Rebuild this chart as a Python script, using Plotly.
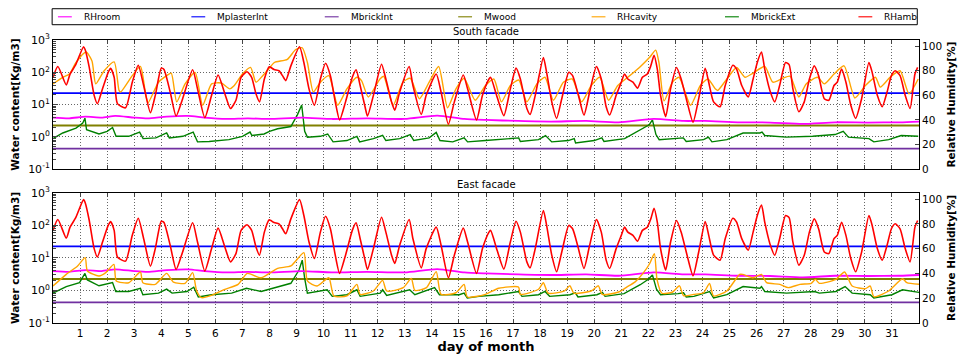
import plotly.graph_objects as go

# ---------------- data (day of month, value) ----------------
# Ambient relative humidity [%] (same in both facades)
rhamb_day = [0.0, 0.18, 0.49, 0.63, 0.83, 1.13, 1.19, 1.34, 1.52, 1.64, 1.83, 2.04, 2.13, 2.26, 2.38, 2.68,
             2.93, 3.15, 3.35, 3.6, 3.78, 4.0, 4.1, 4.33, 4.55, 4.79, 5.16, 5.34, 5.61, 5.86, 6.1, 6.35,
             6.56, 6.76, 6.95, 7.17, 7.34, 7.5, 7.63, 7.81, 7.99, 8.05, 8.17, 8.35, 8.48, 8.6, 8.79, 9.11,
             9.27, 9.46, 9.66, 9.88, 10.07, 10.25, 10.43, 10.59, 10.81, 11.06, 11.2, 11.35, 11.53, 11.62,
             11.84, 12.14, 12.3, 12.51, 12.63, 12.81, 13.16, 13.3, 13.61, 13.79, 14.16, 14.34, 14.61, 14.83,
             15.16, 15.32, 15.65, 15.87, 16.11, 16.17, 16.41, 16.66, 16.9, 17.11, 17.27, 17.51, 17.63, 17.82,
             18.12, 18.24, 18.43, 18.61, 18.8, 19.06, 19.2, 19.4, 19.62, 19.83, 20.08, 20.26, 20.44, 20.57,
             20.81, 21.0, 21.12, 21.24, 21.43, 21.6, 21.78, 21.96, 22.09, 22.21, 22.33, 22.45, 22.64, 22.82,
             23.04, 23.21, 23.43, 23.65, 23.86, 24.1, 24.23, 24.41, 24.65, 24.84, 25.12, 25.26, 25.45, 25.69,
             25.87, 26.03, 26.18, 26.3, 26.49, 26.67, 26.85, 27.07, 27.2, 27.34, 27.56, 27.76, 27.95, 28.13,
             28.29, 28.5, 28.67, 28.86, 28.98, 29.14, 29.3, 29.48, 29.66, 29.88, 30.15, 30.27, 30.46, 30.64,
             30.82, 30.98, 31.12, 31.3, 31.49, 31.67, 31.85, 31.95]
rhamb_val = [74.7, 83.5, 68.5, 77.3, 84.5, 99.5, 97.0, 82.7, 60.0, 53.3, 65.3, 78.7, 81.9, 74.7, 53.3, 49.9,
             70.7, 84.5, 68.0, 45.9, 60.0, 82.1, 81.0, 62.7, 43.2, 57.3, 80.8, 65.3, 41.9, 60.0, 76.5, 61.3,
             49.3, 56.0, 74.7, 79.2, 74.7, 61.3, 54.7, 73.3, 83.2, 82.7, 81.0, 80.0, 76.0, 72.0, 84.0, 99.5,
             86.7, 65.3, 52.0, 73.3, 86.1, 76.0, 54.7, 40.0, 54.7, 74.7, 80.8, 68.0, 50.7, 43.2,
             60.0, 85.3, 73.3, 54.7, 48.0, 62.7, 83.5, 68.0, 44.5, 60.0, 77.3, 62.7, 36.5, 54.7,
             76.5, 65.3, 40.0, 60.0, 73.3, 74.7, 58.7, 43.5, 65.3, 82.1, 73.3, 49.3, 44.5, 60.0,
             90.7, 78.7, 54.7, 41.3, 57.3, 78.7, 76.0, 61.3, 44.0, 62.7, 83.5, 73.3, 50.7, 44.0,
             60.0, 70.7, 77.3, 73.3, 70.7, 65.9, 74.7, 77.3, 84.0, 92.5, 81.3, 60.0, 42.7, 65.3,
             82.7, 73.3, 54.7, 38.1, 57.3, 81.9, 70.7, 54.7, 50.7, 68.0, 84.5, 81.3, 68.0, 58.7,
             73.3, 87.2, 95.2, 81.3, 64.0, 54.7, 68.0, 86.7, 85.0, 65.3, 46.7, 54.7, 73.3, 84.0,
             76.0, 57.3, 56.0, 68.0, 70.7, 81.3, 70.7, 52.0, 41.3, 57.3, 86.7, 78.7, 60.0, 50.7,
             62.7, 76.0, 80.0, 76.0, 60.0, 49.3, 77.3, 82.7]

# Room relative humidity [%] (same in both facades)
rhroom_day = [0.0, 0.6, 1.2, 1.8, 2.3, 3.0, 3.5, 4.2, 5.0, 5.6, 6.4, 7.2, 8.0, 9.2, 10.3, 11.6, 13.0, 14.2,
              15.2, 16.0, 17.2, 18.4, 19.7, 20.9, 22.2, 23.3, 24.1, 25.3, 26.5, 27.7, 28.9, 30.1, 31.3, 32.0]
rhroom_val = [41.9, 41.3, 42.7, 41.9, 43.3, 41.9, 41.3, 42.7, 43.3, 41.9, 40.8, 41.3, 40.8, 41.9, 40.8, 41.3,
              40.8, 43.5, 40.8, 40.0, 39.2, 38.7, 39.2, 38.1, 40.8, 39.2, 39.2, 38.1, 37.9, 36.8, 38.1, 37.9,
              38.1, 38.7]

# Cavity relative humidity [%] - south facade
rhcav_s_day = [0.0, 0.36, 0.61, 0.85, 1.22, 1.44, 1.58, 1.89, 2.26, 2.44, 2.5, 2.93, 3.23, 3.41, 3.51, 3.9,
               4.2, 4.37, 4.57, 4.88, 5.25, 5.53, 5.86, 6.22, 6.53, 6.7, 7.0, 7.3, 7.5, 7.75, 7.99, 8.18,
               8.66, 8.97, 9.21, 9.4, 9.62, 9.88, 10.19, 10.52, 10.86, 11.23, 11.4, 11.65, 12.08, 12.22,
               12.57, 12.93, 13.2, 13.54, 13.9, 14.25, 14.58, 14.89, 15.19, 15.6, 15.98, 16.29, 16.57, 16.9,
               17.21, 17.51, 17.88, 18.18, 18.49, 18.86, 19.19, 19.53, 19.89, 20.2, 20.53, 20.87, 21.24,
               21.67, 22.04, 22.27, 22.39, 22.58, 22.89, 23.13, 23.56, 23.92, 24.2, 24.47, 24.56, 24.9,
               25.26, 25.57, 25.87, 26.3, 26.6, 26.97, 27.24, 27.56, 27.83, 28.25, 28.5, 28.86, 29.23,
               29.63, 30.02, 30.39, 30.57, 30.93, 31.3, 31.63, 31.97]
rhcav_s_val = [69.3, 74.7, 77.3, 86.7, 95.2, 88.0, 69.3, 80.0, 87.2, 64.0, 62.7, 76.0, 83.5, 62.7, 53.9, 70.7,
               76.0, 78.1, 54.7, 69.3, 78.7, 52.0, 69.3, 70.0, 65.3, 68.0, 77.3, 82.7, 70.7, 76.0, 82.0, 86.7,
               89.3, 97.3, 98.7, 86.7, 62.7, 70.7, 76.0, 52.0, 65.3, 74.7, 72.0, 58.7, 73.3, 75.5,
               52.0, 70.7, 73.9, 57.3, 70.7, 83.5, 49.9, 65.3, 73.9, 56.0, 68.0, 73.3, 54.7, 68.0,
               72.5, 54.7, 69.3, 74.7, 56.0, 70.7, 73.3, 54.7, 68.0, 74.7, 56.0, 68.0, 74.7,
               82.7, 90.7, 96.8, 86.7, 55.5, 70.7, 74.7, 52.0, 68.0, 73.3, 65.3, 64.0, 73.3,
               82.7, 74.7, 78.1, 83.5, 70.7, 73.9, 75.5, 58.7, 69.3, 74.7, 69.3, 77.3, 84.0,
               57.9, 68.0, 74.7, 66.7, 74.7, 80.0, 61.3, 73.3]

# Cavity relative humidity [%] - east facade
rhcav_e_day = [0.0, 0.49, 0.91, 1.19, 1.27, 1.7, 1.95, 2.25, 2.34, 2.8, 3.23, 3.32, 3.78, 4.2, 4.45, 4.88,
               5.16, 5.31, 5.49, 5.86, 6.35, 6.84, 7.18, 7.69, 8.3, 8.79, 9.27, 9.4, 9.76, 10.19, 10.38,
               10.86, 11.23, 11.35, 11.84, 12.18, 12.33, 12.94, 13.24, 13.37, 13.8, 14.16, 14.34, 14.89,
               15.19, 15.31, 15.98, 16.47, 17.2, 17.27, 17.94, 18.12, 18.3, 18.9, 19.1, 19.25, 19.9, 20.15,
               20.3, 20.9, 21.2, 21.5, 21.8, 22.05, 22.22, 22.32, 22.5, 22.9, 23.15, 23.3, 23.68, 24.04,
               24.26, 24.41, 24.9, 25.37, 25.48, 25.86, 26.18, 26.37, 26.86, 27.17, 27.6, 28.02, 28.17,
               28.32, 28.93, 29.25, 29.53, 30.02, 30.2, 30.33, 30.88, 31.39, 31.55, 32.0]
rhcav_e_val = [29.8, 39.2, 46.0, 52.7, 41.9, 37.9, 40.6, 47.3, 33.9, 32.5, 41.1, 32.5, 31.2, 40.0, 33.0, 32.0,
               40.6, 25.8, 20.4, 22.3, 27.2, 31.2, 40.0, 36.5, 44.1, 46.0, 56.7, 33.9, 29.8, 36.5, 21.8,
               21.8, 31.2, 23.1, 25.8, 34.4, 25.8, 28.5, 36.0, 26.3, 28.5, 41.4, 23.1, 24.4,
               31.2, 21.0, 23.1, 28.0, 29.0, 23.1, 27.2, 32.5, 24.0, 26.0, 30.0, 24.0, 26.0, 30.0,
               23.0, 25.0, 29.0, 33.0, 40.0, 48.0, 56.0, 35.0, 24.0, 25.0, 30.0, 22.0, 23.1, 24.4,
               32.0, 21.8, 25.8, 39.2, 39.2, 36.5, 39.2, 32.5, 31.2, 28.5, 31.2, 32.0, 35.2,
               32.0, 35.2, 41.1, 29.8, 27.7, 29.8, 21.2, 25.8, 35.7, 32.5, 31.2]

# Exterior brick water content [kg/m3] - south facade
mbext_s_day = [0.0, 0.36, 0.85, 1.1, 1.18, 1.24, 1.7, 2.0, 2.2, 2.33, 2.8, 3.2, 3.33, 3.8, 4.2, 4.3, 4.8,
               5.18, 5.34, 5.77, 6.5, 7.0, 7.28, 7.35, 7.8, 8.0, 8.3, 8.79, 9.03, 9.19, 9.3, 9.4, 9.88,
               10.15, 10.35, 10.86, 11.23, 11.33, 11.84, 12.18, 12.3, 12.81, 13.2, 13.33, 13.9, 14.16, 14.3,
               14.77, 15.19, 15.32, 15.98, 17.21, 17.27, 17.94, 18.2, 18.43, 19.04, 19.26, 19.31, 20.0,
               20.28, 20.36, 21.12, 21.73, 22.03, 22.15, 22.28, 22.4, 23.07, 23.29, 23.4, 24.04, 24.22,
               24.35, 24.9, 25.5, 26.12, 26.2, 26.3, 27.09, 28.07, 28.9, 29.2, 29.39, 30.15, 30.33, 30.88,
               31.34, 31.97]
mbext_s_val = [0.885, 1.32, 1.87, 2.67, 3.79, 1.66, 1.23, 1.48, 1.95, 1.04, 1.04, 1.41, 0.885, 0.93, 1.32,
               0.93, 1.04, 1.41, 0.70, 0.72, 0.82, 1.04, 1.41, 1.1, 1.23, 1.48, 1.79, 2.09, 4.8, 9.7, 1.48,
               0.98, 1.04, 1.23, 0.70, 0.77, 1.04, 0.70, 0.885, 1.12, 0.77, 0.885, 1.18, 0.77, 0.93, 1.37,
               0.77, 0.70, 0.93, 0.70, 0.77, 0.93, 0.72, 0.82, 1.1, 0.70, 0.77, 0.885, 0.65, 0.77,
               0.93, 0.72, 0.885, 1.66, 2.37, 3.37, 1.18, 0.82, 0.885, 0.93, 0.72, 0.82, 0.98,
               0.70, 0.82, 1.32, 1.32, 1.41, 1.1, 0.98, 1.04, 1.18, 1.48, 0.98, 0.885, 0.70, 0.82,
               1.1, 1.04]

# Exterior brick water content [kg/m3] - east facade
mbext_e_day = [0.0, 0.49, 0.98, 1.18, 1.27, 1.7, 2.2, 2.32, 2.8, 3.23, 3.32, 3.9, 4.2, 4.4, 4.95, 5.2, 5.37,
               5.86, 6.6, 7.15, 7.69, 8.3, 8.79, 9.09, 9.21, 9.3, 9.4, 10.13, 10.32, 10.86, 11.23, 11.35,
               12.09, 12.18, 12.33, 13.18, 13.37, 14.1, 14.28, 15.01, 15.19, 15.31, 15.74, 16.47, 17.2,
               17.33, 17.94, 18.18, 18.35, 19.1, 19.3, 19.4, 20.1, 20.3, 20.4, 21.1, 21.7, 22.0, 22.15,
               22.3, 22.45, 23.1, 23.3, 23.4, 23.68, 24.26, 24.41, 24.9, 25.5, 26.12, 26.18, 26.3, 27.1,
               28.14, 28.32, 28.93, 29.27, 29.53, 30.2, 30.33, 31.0, 31.39, 32.0]
mbext_e_val = [0.83, 1.32, 1.75, 3.34, 2.11, 1.39, 1.75, 0.93, 0.93, 1.17, 0.74, 0.83, 1.1, 0.83, 0.93, 1.26,
               0.63, 0.74, 0.83, 1.17, 0.93, 1.32, 1.66, 4.24, 8.5, 2.35, 0.83, 1.05, 0.66, 0.74, 1.05, 0.66,
               0.83, 1.05, 0.70, 1.05, 0.74, 1.23, 0.74, 0.74, 0.83, 0.59, 0.66, 0.74, 0.93,
               0.66, 0.74, 0.93, 0.66, 0.74, 0.85, 0.63, 0.74, 0.88, 0.66, 0.80, 1.5, 2.2, 3.0,
               1.1, 0.74, 0.80, 0.85, 0.63, 0.66, 0.93, 0.59, 0.74, 1.32, 1.17, 1.32, 0.93, 0.83,
               0.93, 0.83, 0.93, 1.32, 0.83, 0.74, 0.59, 0.74, 1.05, 0.87]

# Nearly constant water contents [kg/m3]
span_day = [0.0, 32.0]
mplaster_val = [22.5, 22.5]
mwood_val = [2.25, 2.25]
mbrickint_val = [0.43, 0.43]

# Axis ticks
day_ticks = list(range(1, 32))
wc_tickvals = [0.1, 1, 10, 100, 1000]
wc_ticktext = ["10<sup>-1</sup>", "10<sup>0</sup>", "10<sup>1</sup>", "10<sup>2</sup>", "10<sup>3</sup>"]
rh_ticks = [0, 20, 40, 60, 80, 100]

# ---------------- styling ----------------
FONT = "DejaVu Sans"
names = ["RHroom", "MplasterInt", "MbrickInt", "Mwood", "RHcavity", "MbrickExt", "RHamb"]
colors = {"RHroom": "#ff00ff", "MplasterInt": "#0000ff", "MbrickInt": "#7030a0", "Mwood": "#808000",
          "RHcavity": "#ffa500", "MbrickExt": "#008000", "RHamb": "#ff0000"}

fig = go.Figure()

panels = [
    dict(x="x", yl="y", yr="y2", cav=(rhcav_s_day, rhcav_s_val), ext=(mbext_s_day, mbext_s_val)),
    dict(x="x2", yl="y3", yr="y4", cav=(rhcav_e_day, rhcav_e_val), ext=(mbext_e_day, mbext_e_val)),
]

for p in panels:
    def add(name, xs, ys, axis, width=1.5, shape="linear"):
        fig.add_trace(go.Scatter(x=xs, y=ys, mode="lines", name=name, showlegend=False,
                                 line=dict(color=colors[name], width=width, shape=shape,
                                           smoothing=0.6 if shape == "spline" else None),
                                 xaxis=p["x"], yaxis=axis))
    add("RHroom", rhroom_day, rhroom_val, p["yr"], 1.8, "spline")
    add("MplasterInt", span_day, mplaster_val, p["yl"], 1.8)
    add("MbrickInt", span_day, mbrickint_val, p["yl"], 1.8)
    add("Mwood", span_day, mwood_val, p["yl"], 1.8)
    add("RHcavity", p["cav"][0], p["cav"][1], p["yr"], 1.4, "spline")
    add("MbrickExt", p["ext"][0], p["ext"][1], p["yl"], 1.4)
    add("RHamb", rhamb_day, rhamb_val, p["yr"], 1.6, "spline")

top_dom = [0.5436, 1.0]
bot_dom = [0.0, 0.46]

grid = dict(showgrid=True, gridcolor="#666666", gridwidth=1, griddash="1px,2px")
frame = dict(showline=True, linecolor="black", linewidth=1, zeroline=False)
tickf = dict(family=FONT, size=10.5, color="black")

xbase = dict(range=[0, 32], tickvals=day_ticks, ticks="inside", ticklen=4, mirror="ticks",
             tickfont=tickf, **grid, **frame)
ylog = dict(type="log", range=[-1, 3], tickvals=wc_tickvals, ticktext=wc_ticktext, ticks="inside",
            ticklen=5, minor=dict(ticks="inside", ticklen=2.5, showgrid=False, dtick="D1"),
            tickfont=dict(family=FONT, size=11, color="black"), **grid, **frame)
yrh = dict(range=[0, 105], tickvals=rh_ticks, ticks="inside", ticklen=4,
           showgrid=False, tickfont=tickf, side="right", **frame)

ltitle = dict(text="<b>Water content[Kg/m3]</b>", font=dict(family=FONT, size=10.5, color="black"),
              standoff=6)
rtitle = dict(text="<b>Relative Humidity[%]</b>", font=dict(family=FONT, size=10.5, color="black"),
              standoff=6)

fig.update_layout(
    width=967, height=362,
    margin=dict(l=53, r=39, t=40, b=35),
    paper_bgcolor="white", plot_bgcolor="white",
    font=dict(family=FONT, color="black"),
    showlegend=False,
    xaxis=dict(domain=[0, 1], anchor="y", showticklabels=False, **xbase),
    xaxis2=dict(domain=[0, 1], anchor="y3", showticklabels=True,
                title=dict(text="<b>day of month</b>", font=dict(family=FONT, size=13, color="black"),
                           standoff=2), **xbase),
    yaxis=dict(domain=top_dom, anchor="x", title=ltitle, **ylog),
    yaxis2=dict(domain=top_dom, anchor="x", overlaying="y", title=rtitle, **yrh),
    yaxis3=dict(domain=bot_dom, anchor="x2", title=ltitle, **ylog),
    yaxis4=dict(domain=bot_dom, anchor="x2", overlaying="y3", title=rtitle, **yrh),
)

# panel titles
for text, ytop in (("South facade", top_dom[1]), ("East facade", bot_dom[1])):
    fig.add_annotation(text=text, xref="paper", yref="paper", x=0.5, y=ytop, yanchor="bottom",
                       showarrow=False, yshift=1, font=dict(family=FONT, size=10, color="black"))

# legend row in a framed box above the plots
leg_y0, leg_y1 = 1.054, 1.1105
fig.add_shape(type="rect", xref="paper", yref="paper", x0=-0.001, x1=0.998, y0=leg_y0, y1=leg_y1,
              line=dict(color="black", width=1), fillcolor="white")
for i, name in enumerate(names):
    x0 = (5 + i * 134.8) / 875
    ym = (leg_y0 + leg_y1) / 2
    fig.add_shape(type="line", xref="paper", yref="paper", x0=x0, x1=x0 + 14 / 875, y0=ym, y1=ym,
                  line=dict(color=colors[name], width=1.5), opacity=0.75)
    fig.add_annotation(text=name, xref="paper", yref="paper", x=x0 + 24 / 875, y=ym, xanchor="left",
                       yanchor="middle", showarrow=False, font=dict(family=FONT, size=9, color="black"))

fig.write_html("out.html")
